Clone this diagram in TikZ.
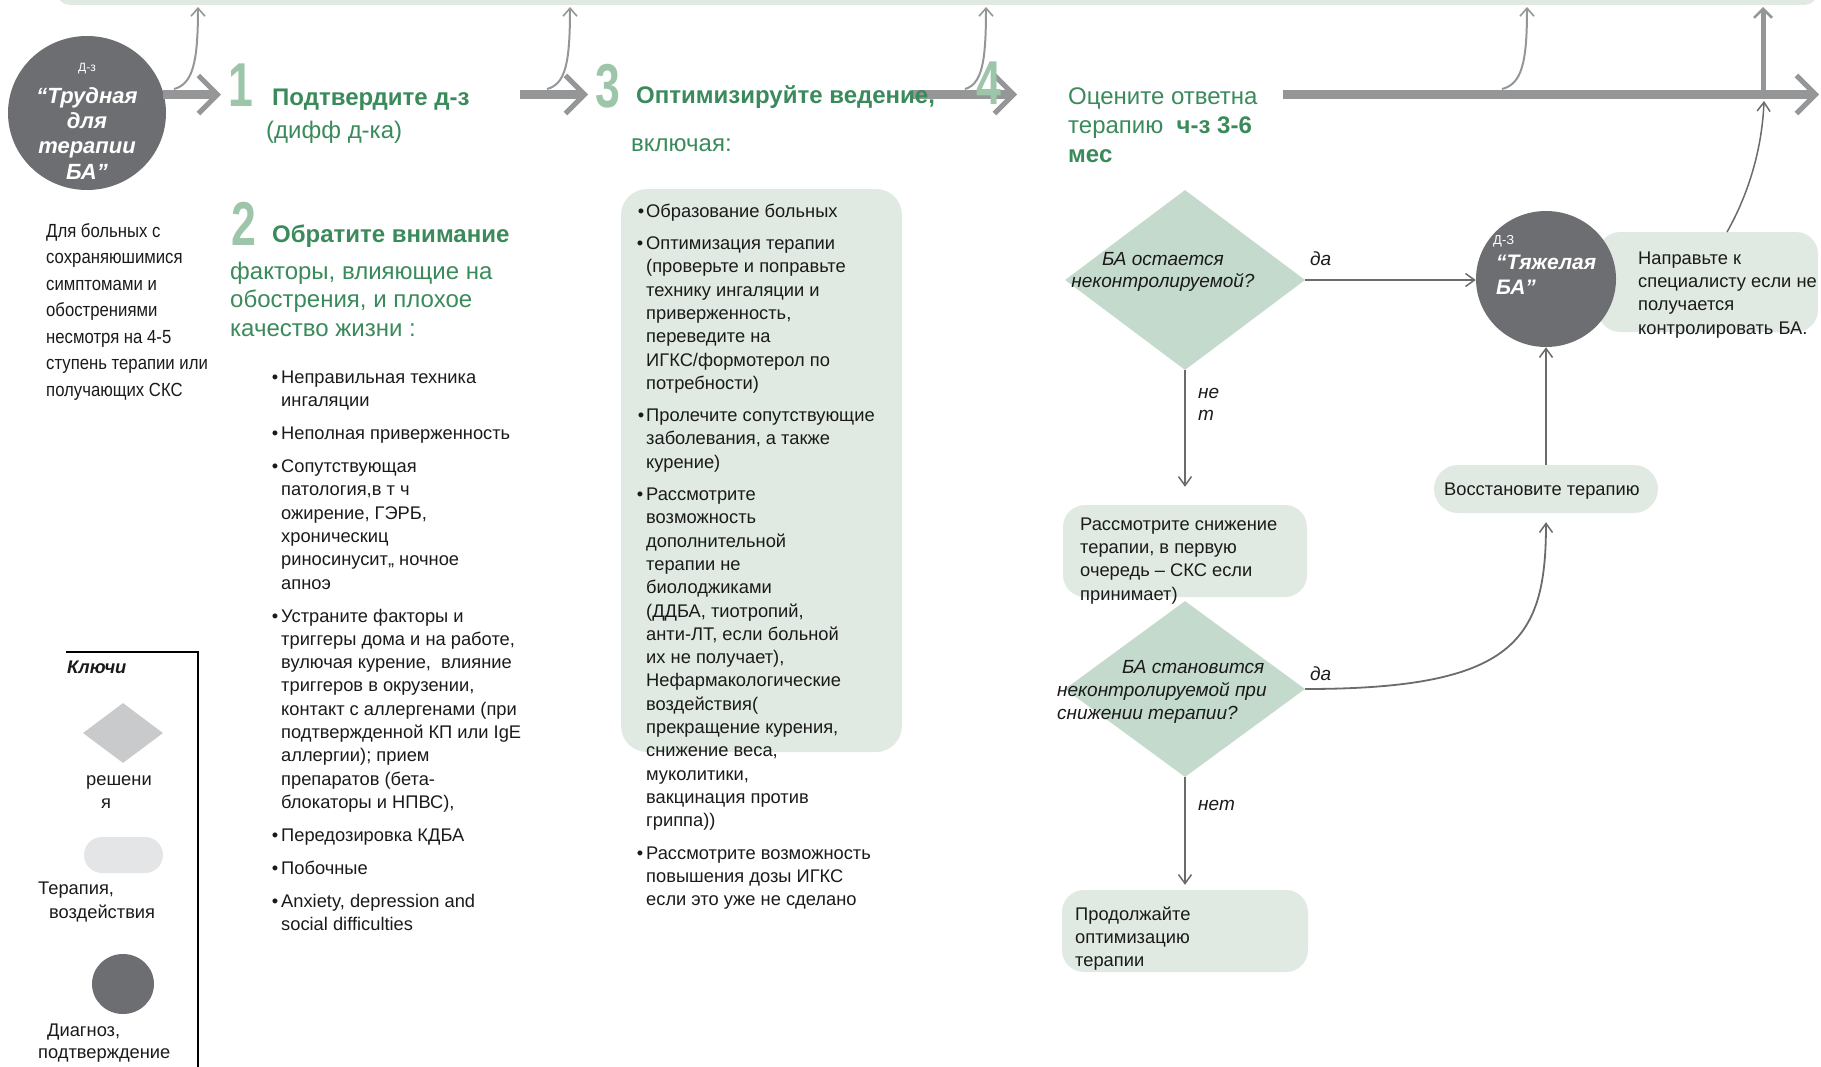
\documentclass[tikz,border=0pt]{standalone}
\usepackage{fontspec}
\setmainfont{Liberation Sans}
\newfontfamily\narrowfont{Liberation Sans}[FakeStretch=0.88]
\newfontfamily\digitfont{Liberation Sans}[FakeStretch=0.72]
\usetikzlibrary{arrows.meta,shapes.geometric}
\definecolor{ink}{HTML}{1A1A1A}
\definecolor{hgreen}{HTML}{3A8A5B}
\definecolor{dgreen}{HTML}{9DC5A9}
\definecolor{boxg}{HTML}{E0EAE2}
\definecolor{diag}{HTML}{C4DACD}
\definecolor{darkc}{HTML}{6D6E71}
\definecolor{agray}{HTML}{959698}
\definecolor{cgray}{HTML}{6B6B6B}
\definecolor{lgray}{HTML}{C9CACB}
\definecolor{pgray}{HTML}{E4E5E6}
\begin{document}
\begin{tikzpicture}[x=1pt,y=-1pt,
  mainarrow/.style={draw=agray, line width=9pt, -{Straight Barb[length=19pt,width=38pt,line width=5pt]}},
  upcurve/.style={draw=agray, line width=2pt, -{Straight Barb[length=8pt,width=14pt,line width=1.6pt]}},
  conn/.style={draw=cgray, line width=1.8pt, -{Straight Barb[length=9pt,width=13pt,line width=1.5pt]}},
  gbox/.style={fill=boxg, rounded corners=22pt, inner sep=0pt, draw=none},
  txt/.style={font=\fontsize{18.3}{23.3}\selectfont, text=ink, align=left, inner sep=0pt, anchor=north west},
  stxt/.style={font=\fontsize{18.3}{23.3}\selectfont, text=ink, inner sep=0pt, anchor=base west},
  itx/.style={font=\fontsize{19}{22.5}\selectfont\itshape, text=ink, inner sep=0pt},
  head/.style={font=\fontsize{24}{28.5}\selectfont, text=hgreen, inner sep=0pt},
  digit/.style={font=\digitfont\fontsize{62}{62}\selectfont\bfseries, text=dgreen, inner sep=0pt, anchor=base west},
  ctext/.style={font=\fontsize{22}{25.3}\selectfont\bfseries\itshape, text=white, inner sep=0pt}
]
\useasboundingbox (0,0) rectangle (1821,1066);
\clip (0,0) rectangle (1821,1066);

% top band
\node[fill=boxg, rounded corners=12pt, minimum width=1760pt, minimum height=50pt, inner sep=0pt, anchor=south west] (band) at (57,5) {};

% boxes
\node[gbox, rounded corners=26pt, minimum width=281pt, minimum height=563pt] (box3) at (761.5,470.5) {};
\node[gbox, minimum width=244pt, minimum height=92pt] (box1) at (1185,551) {};
\node[gbox, minimum width=246pt, minimum height=82pt] (box4) at (1185,931) {};
\node[gbox, rounded corners=24pt, minimum width=224pt, minimum height=48pt] (rest) at (1546,489) {};
\node[gbox, minimum width=220pt, minimum height=100pt] (spec) at (1708,282) {};

% circles
\node[ellipse, fill=darkc, minimum width=158pt, minimum height=154pt, inner sep=0pt] (c1) at (87,113) {};
\node[ellipse, fill=darkc, minimum width=140pt, minimum height=136pt, inner sep=0pt] (c2) at (1546,279) {};

% diamonds
\node[diamond, fill=diag, minimum width=240pt, minimum height=180pt, inner sep=0pt] (dm1) at (1185,280) {};
\node[diamond, fill=diag, minimum width=240pt, minimum height=176pt, inner sep=0pt] (dm2) at (1185,689) {};

% main timeline
\coordinate (a1s) at (163,94.5); \coordinate (a1e) at (221,94.5);
\coordinate (a2s) at (520,94.5); \coordinate (a2e) at (588,94.5);
\coordinate (a3s) at (912,94.5); \coordinate (a3e) at (1017,94.5);
\coordinate (a4s) at (1283,94.5); \coordinate (a4e) at (1819,94.5);
\draw[mainarrow] (a1s) -- (a1e);
\draw[mainarrow] (a2s) -- (a2e);
\draw[mainarrow] (a3s) -- (a3e);
\draw[mainarrow] (a4s) -- (a4e);

% curves up to band
\coordinate (u1) at (198,7); \coordinate (u2) at (570,7); \coordinate (u3) at (986,7); \coordinate (u4) at (1527,7); \coordinate (u5) at (1763,7);
\draw[upcurve] (174,89) .. controls (192,84) and (198,65) .. (u1);
\draw[upcurve] (547,89) .. controls (565,84) and (570,65) .. (u2);
\draw[upcurve] (965,89) .. controls (982,84) and (986,62) .. (u3);
\draw[upcurve] (1502,89) .. controls (1522,84) and (1527,62) .. (u4);
\draw[draw=agray, line width=5pt, -{Straight Barb[length=9pt,width=18pt,line width=2.5pt]}] (1763,97) -- (u5);
\coordinate (specout) at (1727,232); \coordinate (mainin) at (1764,101);
\draw[conn, line width=1.5pt] (specout) .. controls (1748,195) and (1762,150) .. (mainin);

% flow connectors
\draw[conn] (dm1.east) -- (dm1.east -| c2.west);
\draw[conn, shorten >=18pt] (dm1.south) -- (box1.north);
\draw[conn, shorten >=5pt] (dm2.south) -- (box4.north);
\draw[conn] (rest.north) -- (c2.south);
\draw[conn, shorten >=9pt] (dm2.east) .. controls (1515,689) and (1546,640) .. (rest.south);

% digits
\node[digit] (n1) at (228,106) {1};
\node[digit] (n2) at (231,245) {2};
\node[digit] (n3) at (595,107) {3};
\node[digit] (n4) at (976,104) {4};

% headings
\node[head, font=\fontsize{24}{28.5}\selectfont\bfseries, anchor=base west] (h1) at (272,105) {Подтвердите д-з};
\node[head, anchor=base west] (h1b) at (266,138) {(дифф д-ка)};
\node[head, font=\fontsize{24}{28.5}\selectfont\bfseries, anchor=base west] (h2) at (272,242) {Обратите внимание};
\node[head, align=left, anchor=north west] (h2b) at (230,256) {\rule{0pt}{23pt}факторы, влияющие на\\обострения, и плохое\\качество жизни :};
\node[head, font=\fontsize{24}{28.5}\selectfont\bfseries, anchor=base west] (h3) at (636,103) {Оптимизируйте ведение,};
\node[head, anchor=base west] (h3b) at (631,151) {включая:};
\node[head, font=\fontsize{24}{29}\selectfont, align=left, anchor=north west] (h4) at (1068,81) {\rule{0pt}{23pt}Оцените ответна\\терапию\ \ \textbf{ч-з 3-6}\\\textbf{мес}};

% circle texts
\node[font=\fontsize{12}{12}\selectfont, text=white, inner sep=0pt, anchor=base] (c1lab) at (87,71) {Д-з};
\node[ctext, align=center, anchor=north] (c1txt) at (87,83) {\rule{0pt}{20pt}“Трудная\\для\\терапии\\БА”};
\node[font=\fontsize{13}{13}\selectfont, text=white, inner sep=0pt, anchor=base west] (c2lab) at (1493,244) {Д-З};
\node[ctext, font=\fontsize{21}{25}\selectfont\bfseries\itshape, align=left, anchor=north west] (c2txt) at (1496,249) {\rule{0pt}{20pt}“Тяжелая\\БА”};

% left description
\node[font=\narrowfont\fontsize{19}{26.5}\selectfont, text=ink, align=left, inner sep=0pt, anchor=north west] (desc) at (46,218.5) {\rule{0pt}{18.5pt}Для больных с\\сохраняюшимися\\симптомами и\\обострениями\\несмотря на 4-5\\ступень терапии или\\получающих СКС};

% section 2 list
\node[txt] (list2) at (281,365) {\llap{•\hspace{3pt}}\rule{0pt}{18pt}Неправильная техника\\ингаляции\\[9.7pt]
\llap{•\hspace{3pt}}Неполная приверженность\\[9.7pt]
\llap{•\hspace{3pt}}Сопутствующая\\патология,в т ч\\ожирение, ГЭРБ,\\хроническиц\\риносинусит,, ночное\\апноэ\\[9.7pt]
\llap{•\hspace{3pt}}Устраните факторы и\\триггеры дома и на работе,\\вулючая курение,\ \ влияние\\триггеров в окрузении,\\контакт с аллергенами (при\\подтвержденной КП или IgE\\аллергии); прием\\препаратов (бета-\\блокаторы и НПВС),\\[9.7pt]
\llap{•\hspace{3pt}}Передозировка КДБА\\[9.7pt]
\llap{•\hspace{3pt}}Побочные\\[9.7pt]
\llap{•\hspace{3pt}}Anxiety, depression and\\social difficulties};

% section 3 list
\node[txt] (list3) at (646,199) {\llap{•\hspace{2pt}}\rule{0pt}{18pt}Образование больных\\[9pt]
\llap{•\hspace{3pt}}Оптимизация терапии\\(проверьте и поправьте\\технику ингаляции и\\приверженность,\\переведите на\\ИГКС/формотерол по\\потребности)\\[9pt]
\llap{•\hspace{2pt}}Пролечите сопутствующие\\заболевания, а также\\курение)\\[9pt]
\llap{•\hspace{3pt}}Рассмотрите\\возможность\\дополнительной\\терапии не\\биолоджиками\\(ДДБА, тиотропий,\\анти-ЛТ, если больной\\их не получает),\\Нефармакологические\\воздействия(\\прекращение курения,\\снижение веса,\\муколитики,\\вакцинация против\\гриппа))\\[9pt]
\llap{•\hspace{3pt}}Рассмотрите возможность\\повышения дозы ИГКС\\если это уже не сделано};

% step 4 texts
\node[itx, align=center, anchor=north] (dm1txt) at (1163,247) {\rule{0pt}{18pt}БА остается\\неконтролируемой?};
\node[itx, font=\fontsize{19}{23}\selectfont\itshape, align=left, anchor=north west] (dm2txt) at (1057,655) {\rule{0pt}{18pt}\hspace*{65pt}БА становится\\неконтролируемой при\\снижении терапии?};
\node[itx, anchor=base west] (yes1) at (1310,265) {да};
\node[itx, align=left, anchor=north west] (no1) at (1198,380) {\rule{0pt}{18pt}не\\т};
\node[itx, anchor=base west] (yes2) at (1310,680) {да};
\node[itx, anchor=base west] (no2) at (1198,810) {нет};
\node[txt] (box1txt) at (1080,512) {\rule{0pt}{18pt}Рассмотрите снижение\\терапии, в первую\\очередь – СКС если\\принимает)};
\node[stxt] (resttxt) at (1444,495) {Восстановите терапию};
\node[txt] (box4txt) at (1075,902) {\rule{0pt}{18pt}Продолжайте\\оптимизацию\\терапии};
\node[txt] (spectxt) at (1638,246) {\rule{0pt}{18pt}Направьте к\\специалисту если не\\получается\\контролировать БА.};

% legend
\draw[black, line width=2pt] (66,652) -- (198,652) -- (198,1070);
\node[font=\fontsize{18.3}{22}\selectfont\bfseries\itshape, text=ink, inner sep=0pt, anchor=base west] (keys) at (67,673) {Ключи};
\node[diamond, fill=lgray, minimum width=80pt, minimum height=60pt, inner sep=0pt] (ldm) at (123,733) {};
\node[txt] (ldmtxt) at (86,767) {\rule{0pt}{18pt}решени\\\hspace*{15pt}я};
\node[fill=pgray, rounded corners=18pt, minimum width=79pt, minimum height=36pt, inner sep=0pt] (lbox) at (123.5,855) {};
\node[txt, font=\fontsize{18.3}{24}\selectfont] (lboxtxt) at (38,876) {\rule{0pt}{18pt}Терапия,\\\hspace*{11pt}воздействия};
\node[ellipse, fill=darkc, minimum width=62pt, minimum height=60pt, inner sep=0pt] (lc) at (123,984) {};
\node[txt, font=\fontsize{18.3}{22}\selectfont] (lctxt) at (38,1018) {\rule{0pt}{18pt}\hspace*{9pt}Диагноз,\\подтверждение};
\end{tikzpicture}
\end{document}
